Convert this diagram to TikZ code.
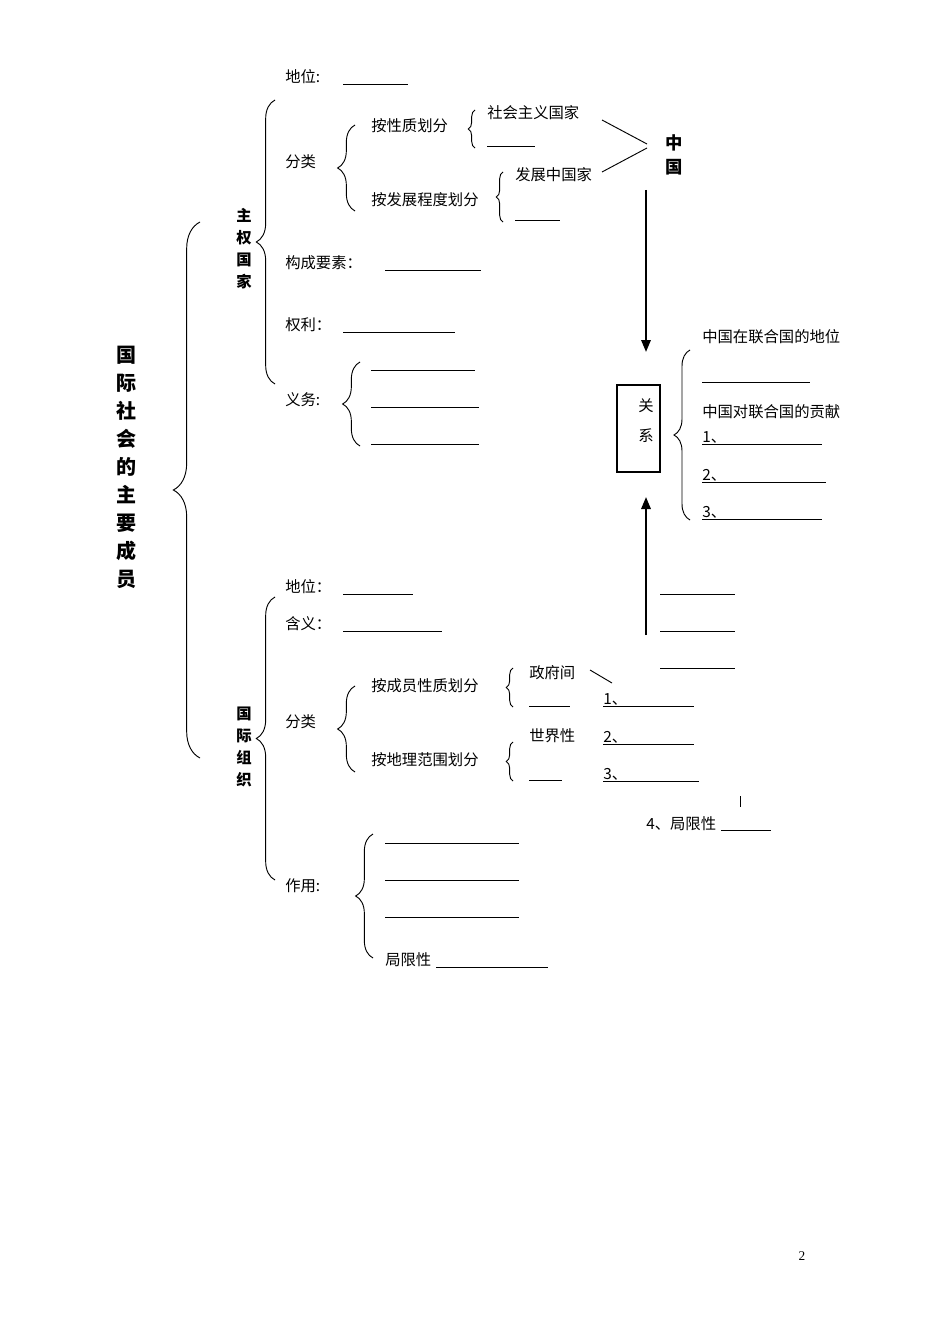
\documentclass[tikz,border=0pt]{standalone}
\usepackage{fontspec}
\setmainfont{Liberation Serif}
\newfontfamily\cjk{Noto Sans CJK SC}
\newfontfamily\cjkb{Noto Sans CJK SC Bold}
\usetikzlibrary{decorations.pathreplacing,arrows.meta}
\begin{document}
\begin{tikzpicture}[x=0.75pt,y=-0.75pt,
 t/.style={anchor=west,inner sep=0pt,font=\cjk\fontsize{11.5}{13}\selectfont},
 vt/.style={anchor=north,inner sep=0pt,align=center,font=\cjk\bfseries\fontsize{11.5}{16.5}\selectfont},
 ln/.style={line width=0.7pt},
 br/.style={line width=0.7pt,decorate,decoration={brace,amplitude=#1}},
 ar/.style={line width=1.6pt,-{Triangle[length=9pt,width=7pt]}}]
\useasboundingbox (0,0) rectangle (950,1344);
% title
\node[vt,font=\cjk\bfseries\fontsize{15}{21}\selectfont] (title) at (126,346) {国\\际\\社\\会\\的\\主\\要\\成\\员};
\draw[br=20pt] (200,758) -- (200,222);
% sovereign states
\node[vt] (zq) at (244,208) {主\\权\\国\\家};
\draw[br=14pt] (275,384) -- (275,100);
\node[t] (dw1) at (285,77) {地位:};
\draw[ln] (343,84) -- (408,84);
\node[t] (fl1) at (285,162) {分类};
\draw[br=13pt] (355,211) -- (355,125);
\node[t] (xz) at (371,126) {按性质划分};
\draw[br=5pt] (475,148) -- (475,110);
\node[t] (sh) at (487,113) {社会主义国家};
\draw[ln] (487,146) -- (535,146);
\node[t] (fz) at (371,200) {按发展程度划分};
\draw[br=5pt] (503,222) -- (503,172);
\node[t] (fzz) at (515,175) {发展中国家};
\draw[ln] (515,220) -- (560,220);
\node[vt,font=\cjk\bfseries\fontsize{13}{18}\selectfont] (zg) at (674,134) {中\\国};
\draw[ln] (602,120) -- (647,144);
\draw[ln] (647,148) -- (602,172);
\node[t] (gc) at (285,263) {构成要素：};
\draw[ln] (385,270) -- (481,270);
\node[t] (ql) at (285,325) {权利：};
\draw[ln] (343,332) -- (455,332);
\node[t] (yw) at (285,400) {义务:};
\draw[br=13pt] (360,446) -- (360,362);
\draw[ln] (371,370) -- (475,370);
\draw[ln] (371,407) -- (479,407);
\draw[ln] (371,444) -- (479,444);
% relation box
\draw[line width=1pt] (617,385) rectangle (660,472);
\node[t,anchor=center] (g1) at (646,406) {关};
\node[t,anchor=center] (g2) at (646,436) {系};
\coordinate (a1) at (646,190); \coordinate (a2) at (646,352);
\draw[ar] (a1) -- (a2);
\coordinate (b1) at (646,635); \coordinate (b2) at (646,497);
\draw[ar] (b1) -- (b2);
\draw[br=12pt] (690,520) -- (690,350);
\node[t] (dwz) at (702,337) {中国在联合国的地位};
\draw[ln] (702,382) -- (810,382);
\node[t] (gx) at (702,412) {中国对联合国的贡献};
\node[t] (n1) at (702,437) {1、};
\draw[ln] (702,444) -- (822,444);
\node[t] (n2) at (702,475) {2、};
\draw[ln] (702,482) -- (826,482);
\node[t] (n3) at (702,512) {3、};
\draw[ln] (702,519) -- (822,519);
% international orgs
\node[vt] (gj) at (244,707) {国\\际\\组\\织};
\draw[br=14pt] (275,880) -- (275,597);
\node[t] (dw2) at (285,587) {地位：};
\draw[ln] (343,594) -- (413,594);
\node[t] (hy) at (285,624) {含义：};
\draw[ln] (343,631) -- (442,631);
\node[t] (fl2) at (285,722) {分类};
\draw[br=13pt] (355,772) -- (355,686);
\node[t] (cy) at (371,686) {按成员性质划分};
\draw[br=5pt] (513,707) -- (513,668);
\node[t] (zf) at (529,673) {政府间};
\draw[ln] (529,706) -- (570,706);
\node[t] (dl) at (371,760) {按地理范围划分};
\draw[br=5pt] (513,781) -- (513,742);
\node[t] (sj) at (529,736) {世界性};
\draw[ln] (529,780) -- (562,780);
\draw[ln] (590,670) -- (612,683);
\node[t] (m1) at (603,699) {1、};
\draw[ln] (603,706) -- (694,706);
\node[t] (m2) at (603,737) {2、};
\draw[ln] (603,744) -- (694,744);
\node[t] (m3) at (603,774) {3、};
\draw[ln] (603,781) -- (699,781);
\draw[ln] (660,594) -- (735,594);
\draw[ln] (660,631) -- (735,631);
\draw[ln] (660,668) -- (735,668);
\draw[ln] (740,796) -- (740,807);
\node[t] (jx4) at (646,824) {4、局限性};
\draw[ln] (721,830) -- (771,830);
\node[t] (zy) at (285,886) {作用:};
\draw[br=13pt] (373,958) -- (373,834);
\draw[ln] (385,843) -- (519,843);
\draw[ln] (385,880) -- (519,880);
\draw[ln] (385,917) -- (519,917);
\node[t] (jx) at (385,960) {局限性};
\draw[ln] (436,967) -- (548,967);
\node[anchor=center,inner sep=0pt,font=\fontsize{10}{12}\selectfont] (pg) at (802,1256) {2};
\end{tikzpicture}
\end{document}
